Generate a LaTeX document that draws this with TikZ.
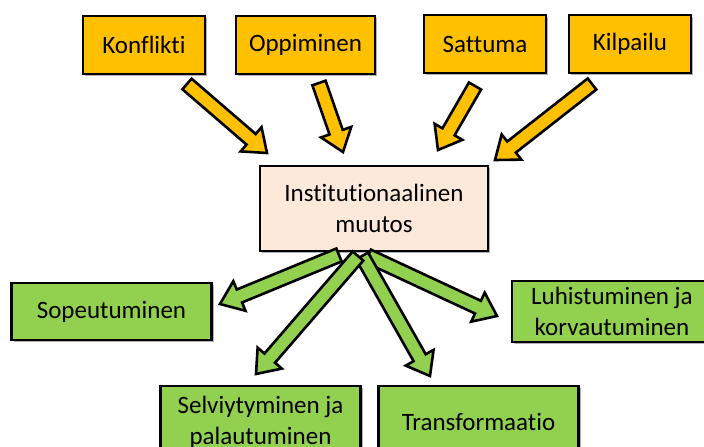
\documentclass[tikz,border=0pt]{standalone}
\usepackage{fontspec}
\setmainfont{Carlito}[Ligatures=NoCommon]
\usetikzlibrary{calc,shadows}

\definecolor{gold}{HTML}{FFC000}
\definecolor{leaf}{HTML}{92D050}
\definecolor{peach}{HTML}{FDE9D9}

% Block arrow from tail #2 to tip #3, style #1, helper coordinate prefix #4
\newcommand\blockarrow[4]{%
  \coordinate (#4h) at ($(#3)!21pt!(#2)$);
  \filldraw[#1]
    ($(#2)!7pt!90:(#3)$) -- ($(#4h)!7pt!90:(#3)$) -- ($(#4h)!16pt!90:(#3)$)
    -- (#3) -- ($(#4h)!16pt!-90:(#3)$) -- ($(#4h)!7pt!-90:(#3)$)
    -- ($(#2)!7pt!-90:(#3)$) -- cycle;
}

\tikzset{
  box/.style={draw=black, line width=2.6pt, inner sep=0pt, align=center,
    font=\fontsize{25}{31}\selectfont,
    drop shadow={shadow xshift=2pt, shadow yshift=-2pt, opacity=0.3, fill=black}},
  cause/.style={box, fill=gold, minimum width=122pt, minimum height=58pt},
  outcome/.style={box, fill=leaf, minimum width=200pt},
  core/.style={box, fill=peach, minimum width=228pt, minimum height=85pt},
  inarrow/.style={fill=gold, draw=black, line width=2.6pt, line join=miter},
  outarrow/.style={fill=leaf, draw=black, line width=2.6pt, line join=miter},
}

\begin{document}
\begin{tikzpicture}[x=1pt, y=-1pt]
  \useasboundingbox (0,0) rectangle (704,447);
  \clip (0,0) rectangle (704,447);

  % driving factors
  \node[cause] (konf) at (144,45) {Konflikti};
  \node[cause, minimum width=139pt] (opp) at (305.5,45) {Oppiminen};
  \node[cause] (satt) at (485,44) {Sattuma};
  \node[cause] (kilp) at (630,44) {Kilpailu};

  % central change
  \node[core] (inst) at (374,208.5) {Institutionaalinen\\muutos};

  % outcomes
  \node[outcome, minimum height=57pt] (sope) at (111.5,311.5) {Sopeutuminen};
  \node[outcome, minimum height=61pt] (luhi) at (612,311.5) {Luhistuminen ja\\korvautuminen};
  \node[outcome, minimum height=72pt] (selv) at (260.5,422) {Selviytyminen ja\\palautuminen};
  \node[outcome, minimum height=72pt] (tran) at (478.5,422) {Transformaatio};

  % arrow end points
  \coordinate (k1) at (187,84);  \coordinate (k2) at (267,153);
  \coordinate (o1) at (319,83);  \coordinate (o2) at (343,152);
  \coordinate (s1) at (475,86);  \coordinate (s2) at (438,150);
  \coordinate (p1) at (592,84);  \coordinate (p2) at (495,160);

  \coordinate (a1) at (339,255); \coordinate (a2) at (220,304);
  \coordinate (b1) at (358,256); \coordinate (b2) at (256,374);
  \coordinate (c1) at (362,256); \coordinate (c2) at (430,376);
  \coordinate (d1) at (368,256); \coordinate (d2) at (497,316);

  % incoming arrows
  \blockarrow{inarrow}{k1}{k2}{kh}
  \blockarrow{inarrow}{o1}{o2}{oh}
  \blockarrow{inarrow}{s1}{s2}{sh}
  \blockarrow{inarrow}{p1}{p2}{ph}

  % outgoing arrows
  \blockarrow{outarrow}{a1}{a2}{ah}
  \blockarrow{outarrow}{d1}{d2}{dh}
  \blockarrow{outarrow}{c1}{c2}{ch}
  \blockarrow{outarrow}{b1}{b2}{bh}
\end{tikzpicture}
\end{document}
